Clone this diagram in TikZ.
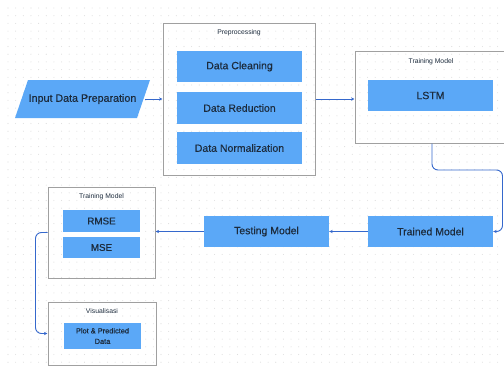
\documentclass[tikz,border=0pt]{standalone}
\usepackage{fontspec}
\setmainfont{Liberation Sans}
\newfontfamily\medfont[FakeBold=0.45]{Liberation Sans}
\usetikzlibrary{arrows.meta,calc}
\definecolor{boxblue}{HTML}{5BA8F7}
\definecolor{txt}{HTML}{1C2B3C}
\definecolor{linkblue}{HTML}{3568CC}
\definecolor{grpline}{HTML}{A0A0A0}
\definecolor{dotc}{HTML}{DEDEDE}
\tikzset{
  blk/.style={fill=boxblue, text=txt, inner sep=0pt, font=\medfont\fontsize{10.5}{12}\selectfont},
  smallblk/.style={blk, font=\medfont\fontsize{9.8}{11}\selectfont},
  grp/.style={draw=grpline, line width=1pt, inner sep=0pt},
  ttl/.style={text=txt, inner sep=0pt, font=\fontsize{6.8}{8}\selectfont, anchor=center},
  link/.style={draw=linkblue, line width=0.9pt, -{Stealth[length=3.5pt,width=3.2pt]}}
}
\begin{document}
\begin{tikzpicture}[x=1pt,y=-1pt]
\useasboundingbox (0,0) rectangle (504,372);
\clip (0,0) rectangle (504,372);
% dotted grid
\foreach \i in {0,...,65}{
  \foreach \j in {0,...,46}{
    \fill[dotc] ({8+7.65*\i},{8+7.7*\j}) circle (0.55pt);
  }
}
% input parallelogram
\fill[boxblue] (15,118) -- (28,80) -- (150,80) -- (137,118) -- cycle;
\node[text=txt, inner sep=0pt, font=\medfont\fontsize{10.7}{12}\selectfont] (inp) at (82.5,99) {Input Data Preparation};
\coordinate (inpR) at (145,99);
% preprocessing group
\node[grp, minimum width=152pt, minimum height=152pt] (pre) at (239,99) {};
\node[ttl] (preT) at (239,33) {Preprocessing};
\node[blk, minimum width=125pt, minimum height=31pt] (dc) at (239.5,66.5) {Data Cleaning};
\node[blk, minimum width=125pt, minimum height=32pt] (dr) at (239.5,108) {Data Reduction};
\node[blk, minimum width=125pt, minimum height=32pt] (dn) at (239.5,148) {Data Normalization};
% training model (top right)
\node[grp, minimum width=152pt, minimum height=92pt] (tm) at (431,97) {};
\node[ttl] (tmT) at (431,62) {Training Model};
\node[blk, minimum width=125pt, minimum height=31pt] (lstm) at (430.5,95.5) {LSTM};
% trained / testing
\node[blk, minimum width=125pt, minimum height=31pt] (trained) at (430.5,231.5) {Trained Model};
\node[blk, minimum width=125pt, minimum height=31pt] (testing) at (266.5,231.5) {Testing Model};
% training model (bottom left)
\node[grp, minimum width=107pt, minimum height=91pt] (tmb) at (101.5,232.5) {};
\node[ttl] (tmbT) at (101.5,197) {Training Model};
\node[smallblk, minimum width=77pt, minimum height=22pt] (rmse) at (101.5,221) {RMSE};
\node[smallblk, minimum width=77pt, minimum height=21pt] (mse) at (101.5,247.5) {MSE};
% visualisasi
\node[grp, minimum width=108pt, minimum height=63pt] (vis) at (102,333.5) {};
\node[ttl] (visT) at (102,311) {Visualisasi};
\node[blk, minimum width=77pt, minimum height=26pt, align=center, font=\medfont\fontsize{7.4}{10.5}\selectfont] (plot) at (102.5,336) {Plot \& Predicted\\Data};
% connectors
\draw[link] (inpR) -- (pre.west |- inpR);
\draw[link] (pre.east) -- (pre.east -| tm.west);
\coordinate (c1) at (502.5,170);
\draw[link, rounded corners=6pt] (tm.south -| 432,0) |- (c1) |- (trained.east);
\draw[link] (trained.west) -- (testing.east);
\draw[link] (testing.west) -- (testing.west -| tmb.east);
\draw[link, rounded corners=6pt] (tmb.west) -- ++(-12,0) |- (vis.west);
\end{tikzpicture}
\end{document}
